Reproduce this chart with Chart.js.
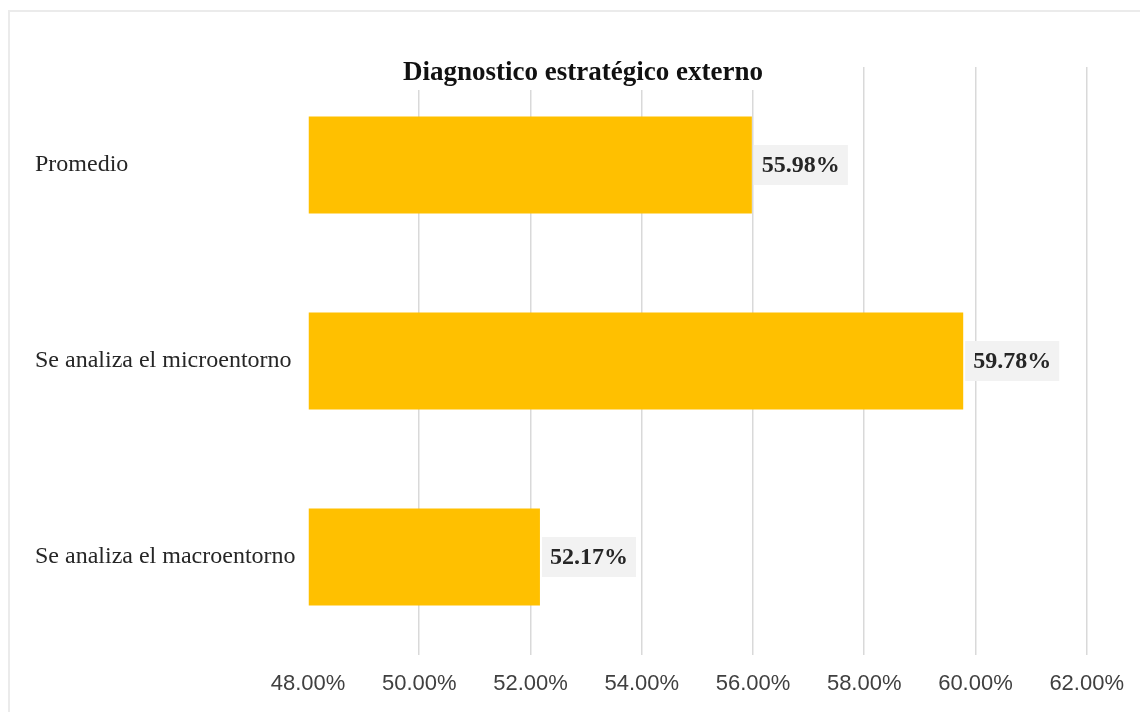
<!DOCTYPE html>
<html>
<head>
<meta charset="utf-8">
<title>Diagnostico estratégico externo</title>
<script src="https://cdn.jsdelivr.net/npm/chart.js@4.4.0/dist/chart.umd.min.js"></script>
<style>
  html, body { margin: 0; padding: 0; background: #fff; overflow: hidden; }
  #frame { position: absolute; left: 8px; top: 10px; width: 1200px; height: 800px; border: 2px solid #ebebeb; }
  #chart { position: absolute; left: 0; top: 0; }
</style>
</head>
<body>
<div id="frame"></div>
<canvas id="chart" width="1140" height="712"></canvas>
<script>
// data
var chartTitle = 'Diagnostico estratégico externo';
var categories = ['Promedio', 'Se analiza el microentorno', 'Se analiza el macroentorno'];
var values = [55.98, 59.78, 52.17];
var axisMin = 48, axisMax = 62, axisStep = 2;

// value labels with grey box, drawn at the end of each bar
var barLabels = {
	id: 'barLabels',
	afterDatasetsDraw: function(chart){
		var ctx = chart.ctx;
		var meta = chart.getDatasetMeta(0);
		ctx.save();
		meta.data.forEach(function(bar, i){
			ctx.fillStyle = '#f2f2f2';
			ctx.fillRect(bar.x + 2, bar.y - 20, 94, 40);
			ctx.fillStyle = '#262626';
			ctx.font = 'bold 24px "Liberation Serif", "Times New Roman", serif';
			ctx.textAlign = 'left';
			ctx.textBaseline = 'middle';
			ctx.fillText(values[i].toFixed(2) + '%', bar.x + 10, bar.y + 1);
		});
		ctx.restore();
	}
};

// title sits over the top of the grid, with white behind it
var titleBox = {
	id: 'titleBox',
	afterDraw: function(chart){
		var ctx = chart.ctx;
		ctx.save();
		ctx.font = 'bold 27px "Liberation Serif", "Times New Roman", serif';
		var w = ctx.measureText(chartTitle).width;
		var cx = 583, cy = 73;
		ctx.fillStyle = '#fff';
		ctx.fillRect(cx - w / 2 - 6, cy - 17, w + 12, 34);
		ctx.fillStyle = '#111';
		ctx.textAlign = 'center';
		ctx.textBaseline = 'middle';
		ctx.fillText(chartTitle, cx, cy);
		ctx.restore();
	}
};

var chart = new Chart(document.getElementById('chart').getContext('2d'), {
	type: 'bar',
	data: {
		labels: categories,
		datasets: [{
			data: values,
			base: axisMin,
			backgroundColor: '#ffc000',
			borderWidth: 0,
			barPercentage: 0.495,
			categoryPercentage: 1
		}]
	},
	options: {
		indexAxis: 'y',
		responsive: false,
		animation: false,
		devicePixelRatio: 1,
		layout: { padding: { left: 35, right: 52, top: 67, bottom: 0 } },
		plugins: {
			legend: { display: false },
			title: { display: false },
			tooltip: { enabled: false }
		},
		scales: {
			x: {
				min: axisMin,
				max: axisMax,
				afterFit: function(scale){ scale.height = 57; },
				border: { display: false },
				grid: {
					drawTicks: false,
					lineWidth: 1.5,
					color: function(c){ return c.tick && c.tick.value === axisMin ? 'rgba(0,0,0,0)' : '#d9d9d9'; }
				},
				ticks: {
					stepSize: axisStep,
					padding: 16,
					color: '#404040',
					font: { family: '"Liberation Sans", Arial, sans-serif', size: 22 },
					callback: function(v){ return v.toFixed(2) + '%'; }
				}
			},
			y: {
				afterFit: function(scale){ scale.width = 273; },
				border: { display: false },
				grid: { display: false },
				ticks: {
					crossAlign: 'far',
					color: '#262626',
					font: { family: '"Liberation Serif", "Times New Roman", serif', size: 24 }
				}
			}
		}
	},
	plugins: [barLabels, titleBox]
});
</script>
</body>
</html>
